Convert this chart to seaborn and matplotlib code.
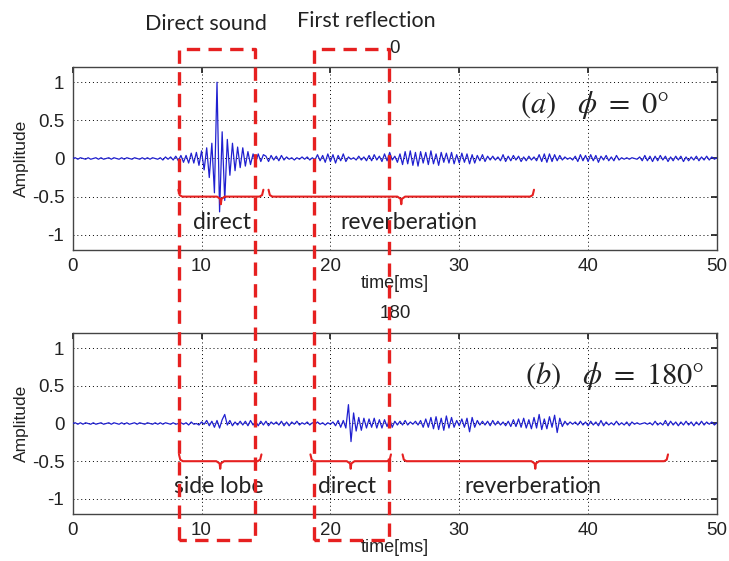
import numpy as np
import matplotlib
matplotlib.use('Agg')
import matplotlib.pyplot as plt
from matplotlib.lines import Line2D
import seaborn as sns

amp_0deg = [
    0.00, 0.01, -0.01, 0.01, 0.00, -0.01, 0.01, -0.01, 0.00, 0.01,
    -0.01, 0.01, -0.01, 0.00, 0.01, -0.01, 0.01, 0.00, -0.01, 0.01,
    -0.01, 0.01, 0.00, -0.01, 0.01,
    0.00, -0.01, 0.01, -0.01, 0.01, -0.01, 0.01, 0.00, -0.01, 0.01,
    -0.02, 0.02, -0.01, 0.02, -0.02, 0.03, -0.03, 0.04, -0.05, 0.04,
    -0.06, 0.07, -0.06, 0.08, -0.09,
    0.10, -0.15, 0.14, -0.25, 0.20, -0.45, 1.00, -0.70, 0.35, -0.55,
    0.25, -0.22, 0.20, -0.16, 0.15, -0.12, 0.14, -0.10, 0.09, -0.08,
    0.06, -0.05, 0.06, -0.04, 0.05,
    0.03, -0.04, 0.04, -0.02, 0.03, -0.03, 0.04, -0.02, 0.02, -0.01,
    0.01, -0.02, 0.01, -0.01, 0.02, -0.01, 0.02, -0.02, 0.01, -0.02,
    0.05, -0.03, 0.04, -0.05, 0.06,
    -0.04, 0.05, -0.06, 0.04, -0.03, 0.06, -0.04, 0.02, -0.01, 0.01,
    -0.02, 0.03, -0.02, 0.02, -0.03, 0.04, -0.03, 0.05, -0.02, 0.03,
    -0.04, 0.06, -0.03, 0.08, -0.02,
    0.03, -0.05, 0.06, -0.08, 0.09, -0.07, 0.10, -0.09, 0.08, -0.10,
    0.09, -0.06, 0.08, -0.08, 0.10, -0.07, 0.06, -0.09, 0.08, -0.05,
    0.07, -0.06, 0.08, -0.07, 0.05,
    -0.06, 0.07, -0.05, 0.06, -0.07, 0.05, -0.06, 0.04, -0.03, 0.05,
    -0.04, 0.03, -0.02, 0.03, -0.02, 0.02, -0.03, 0.05, -0.04, 0.03,
    -0.03, 0.04, -0.02, 0.03, -0.04,
    0.02, -0.03, 0.03, -0.02, 0.02, -0.03, 0.05, -0.04, 0.06, -0.05,
    0.06, -0.04, 0.05, -0.03, 0.04, -0.02, 0.02, -0.01, 0.01, -0.02,
    0.03, -0.04, 0.05, -0.03, 0.04,
    -0.04, 0.05, -0.03, 0.04, -0.05, 0.03, -0.02, 0.04, -0.03, 0.02,
    -0.03, 0.04, -0.02, 0.01, -0.01, 0.01, -0.01, 0.01, 0.00, -0.01,
    0.02, -0.03, 0.04, -0.03, 0.03,
    -0.04, 0.03, -0.03, 0.04, -0.02, 0.03, -0.04, 0.02, -0.03, 0.03,
    -0.02, 0.03, -0.04, 0.02, -0.03, 0.02, -0.02, 0.03, -0.03, 0.02,
    -0.02, 0.03, -0.02, 0.02, -0.01,
    0.01,
]

amp_180deg = [
    0.00, 0.01, -0.01, 0.01, -0.01, 0.01, 0.00, -0.01, 0.01, -0.01,
    0.00, 0.01, -0.01, 0.00, 0.01, -0.01, 0.01, 0.00, -0.01, 0.01,
    -0.01, 0.01, -0.01, 0.00, 0.01,
    -0.01, 0.01, 0.00, -0.01, 0.01, 0.00, -0.01, 0.01, -0.01, 0.01,
    -0.01, 0.01, 0.00, -0.01, 0.01, -0.01, 0.00, 0.01, -0.01, 0.01,
    -0.02, 0.02, -0.01, 0.00, -0.02,
    0.02, -0.01, 0.04, -0.03, 0.03, -0.05, 0.04, -0.06, 0.05, 0.12,
    -0.02, 0.04, -0.03, 0.02, -0.02, 0.03, -0.02, 0.03, -0.03, 0.04,
    -0.02, 0.02, -0.03, 0.03, -0.02,
    0.03, -0.03, 0.02, -0.01, 0.02, -0.02, 0.03, -0.03, 0.02, -0.03,
    0.02, -0.01, 0.03, -0.02, 0.01, -0.01, 0.02, -0.02, 0.01, -0.01,
    0.02, -0.01, 0.01, -0.02, 0.01,
    -0.01, 0.02, -0.03, 0.04, -0.05, 0.04, -0.06, 0.25, -0.24, 0.14,
    -0.10, 0.08, -0.09, 0.07, -0.06, 0.06, -0.05, 0.07, -0.06, 0.05,
    -0.06, 0.05, -0.04, 0.06, -0.05,
    0.03, -0.02, 0.03, -0.02, 0.04, -0.02, 0.02, -0.01, 0.03, -0.02,
    0.04, -0.05, 0.06, -0.05, 0.08, -0.07, 0.09, -0.08, 0.07, -0.09,
    0.10, -0.06, 0.08, -0.05, 0.04,
    -0.03, 0.06, -0.05, 0.07, -0.11, 0.08, -0.05, 0.04, -0.02, 0.03,
    -0.02, 0.03, -0.03, 0.04, -0.02, 0.03, -0.02, 0.02, -0.03, 0.03,
    -0.04, 0.05, -0.04, 0.06, -0.05,
    0.07, -0.06, 0.05, -0.07, 0.08, -0.06, 0.12, -0.08, 0.06, -0.07,
    0.09, -0.05, 0.11, -0.12, 0.07, -0.04, 0.03, -0.02, 0.02, -0.01,
    0.02, -0.02, 0.03, -0.02, 0.02,
    -0.03, 0.03, -0.02, 0.02, -0.03, 0.04, -0.03, 0.02, -0.02, 0.01,
    -0.02, 0.03, -0.02, 0.01, -0.02, 0.02, -0.03, 0.02, -0.01, 0.01,
    -0.01, 0.00, 0.01, -0.01, 0.01,
    -0.02, 0.03, -0.02, 0.01, -0.02, 0.04, -0.03, 0.03, -0.02, 0.02,
    -0.03, 0.02, -0.02, 0.03, -0.02, 0.02, -0.03, 0.02, -0.02, 0.03,
    -0.02, 0.02, -0.01, 0.02, -0.02,
    0.01,
]

time_ms = np.linspace(0, 50, len(amp_0deg))

xticks = [0, 10, 20, 30, 40, 50]
yticks = [-1, -0.5, 0, 0.5, 1]
ytick_labels = ['-1', '-0.5', '0', '0.5', '1']

# brace spans (start, end) in ms and their labels
braces_a = [(8.2, 14.8), (15.2, 35.8)]
labels_a = [('direct', 11.6), ('reverberation', 26.1)]
braces_b = [(8.25, 14.65), (18.45, 24.7), (25.6, 46.2)]
labels_b = [('side lobe', 11.3), ('direct', 21.3), ('reverberation', 35.7)]

sns.set_theme(style='white')
plt.rcParams['font.family'] = ['Liberation Sans', 'DejaVu Sans']
plt.rcParams['mathtext.fontset'] = 'stix'

RED = '#e62020'
BLUE = '#2020d0'
TXT = '#222222'
label_font = ['Lato', 'DejaVu Sans']

fig = plt.figure(figsize=(7.29, 5.61), dpi=100)
ax_a = fig.add_axes([0.0997, 0.5544, 0.8838, 0.3262])
ax_b = fig.add_axes([0.0997, 0.0838, 0.8838, 0.3226])


def draw_brace(ax, x0, x1, y=-0.5):
    xm = (x0 + x1) / 2
    xs = [x0, x0 + 0.1, x0 + 0.3, xm - 0.3, xm - 0.05, xm, xm + 0.05,
          xm + 0.3, x1 - 0.3, x1 - 0.1, x1]
    ys = [y + 0.09, y + 0.02, y, y, y - 0.03, y - 0.1, y - 0.03,
          y, y, y + 0.02, y + 0.09]
    ax.plot(xs, ys, color=RED, lw=1.5, zorder=4)


def style_axes(ax, title, title_pad):
    ax.set_xlim(0, 50)
    ax.set_ylim(-1.2, 1.2)
    ax.set_xticks(xticks)
    ax.set_xticklabels([str(v) for v in xticks])
    ax.set_yticks(yticks)
    ax.set_yticklabels(ytick_labels)
    ax.grid(True, color='black', linestyle=(0, (1, 3)), lw=0.7)
    ax.tick_params(direction='in', length=4, top=True, right=True,
                   labelsize=13.5, colors=TXT, pad=6)
    for s in ax.spines.values():
        s.set_color('#444444')
        s.set_linewidth(1.0)
    ax.set_xlabel('time[ms]', fontsize=13, labelpad=0, color=TXT)
    ax.set_ylabel('Amplitude', fontsize=12.5, labelpad=2, color=TXT)
    ax.set_title(title, fontsize=13.5, pad=title_pad, color=TXT)


sns.lineplot(x=time_ms, y=amp_0deg, ax=ax_a, color=BLUE, lw=0.9, zorder=3)
sns.lineplot(x=time_ms, y=amp_180deg, ax=ax_b, color=BLUE, lw=0.9, zorder=3)
style_axes(ax_a, '0', 10)
style_axes(ax_b, '180', 11)

for x0, x1 in braces_a:
    draw_brace(ax_a, x0, x1)
for x0, x1 in braces_b:
    draw_brace(ax_b, x0, x1)
for txt, xc in labels_a:
    ax_a.text(xc, -0.84, txt, ha='center', va='center', fontsize=16.5,
              family=label_font, color=TXT, zorder=5)
for txt, xc in labels_b:
    ax_b.text(xc, -0.83, txt, ha='center', va='center', fontsize=16.5,
              family=label_font, color=TXT, zorder=5)

ax_a.text(46.3, 0.70, r'$(a)\ \ \ \phi\ =\ 0°$', ha='right', va='center',
          fontsize=22, color=TXT)
ax_b.text(49.0, 0.63, r'$(b)\ \ \ \phi\ =\ 180°$', ha='right', va='center',
          fontsize=22, color=TXT)

# red dashed boxes spanning both panels (figure coordinates)
for x0, x1 in [(0.246, 0.350), (0.431, 0.534)]:
    xs = [x0, x0, x1, x1, x0]
    ys = [0.037, 0.913, 0.913, 0.037, 0.037]
    fig.add_artist(Line2D(xs, ys, transform=fig.transFigure, color=RED,
                          lw=2.4, linestyle=(0, (4, 2.5)), zorder=10))

fig.text(0.283, 0.958, 'Direct sound', ha='center', va='center',
         fontsize=15.5, family=label_font, color=TXT)
fig.text(0.502, 0.962, 'First reflection', ha='center', va='center',
         fontsize=15.5, family=label_font, color=TXT)

fig.savefig('out.png', dpi=100)
